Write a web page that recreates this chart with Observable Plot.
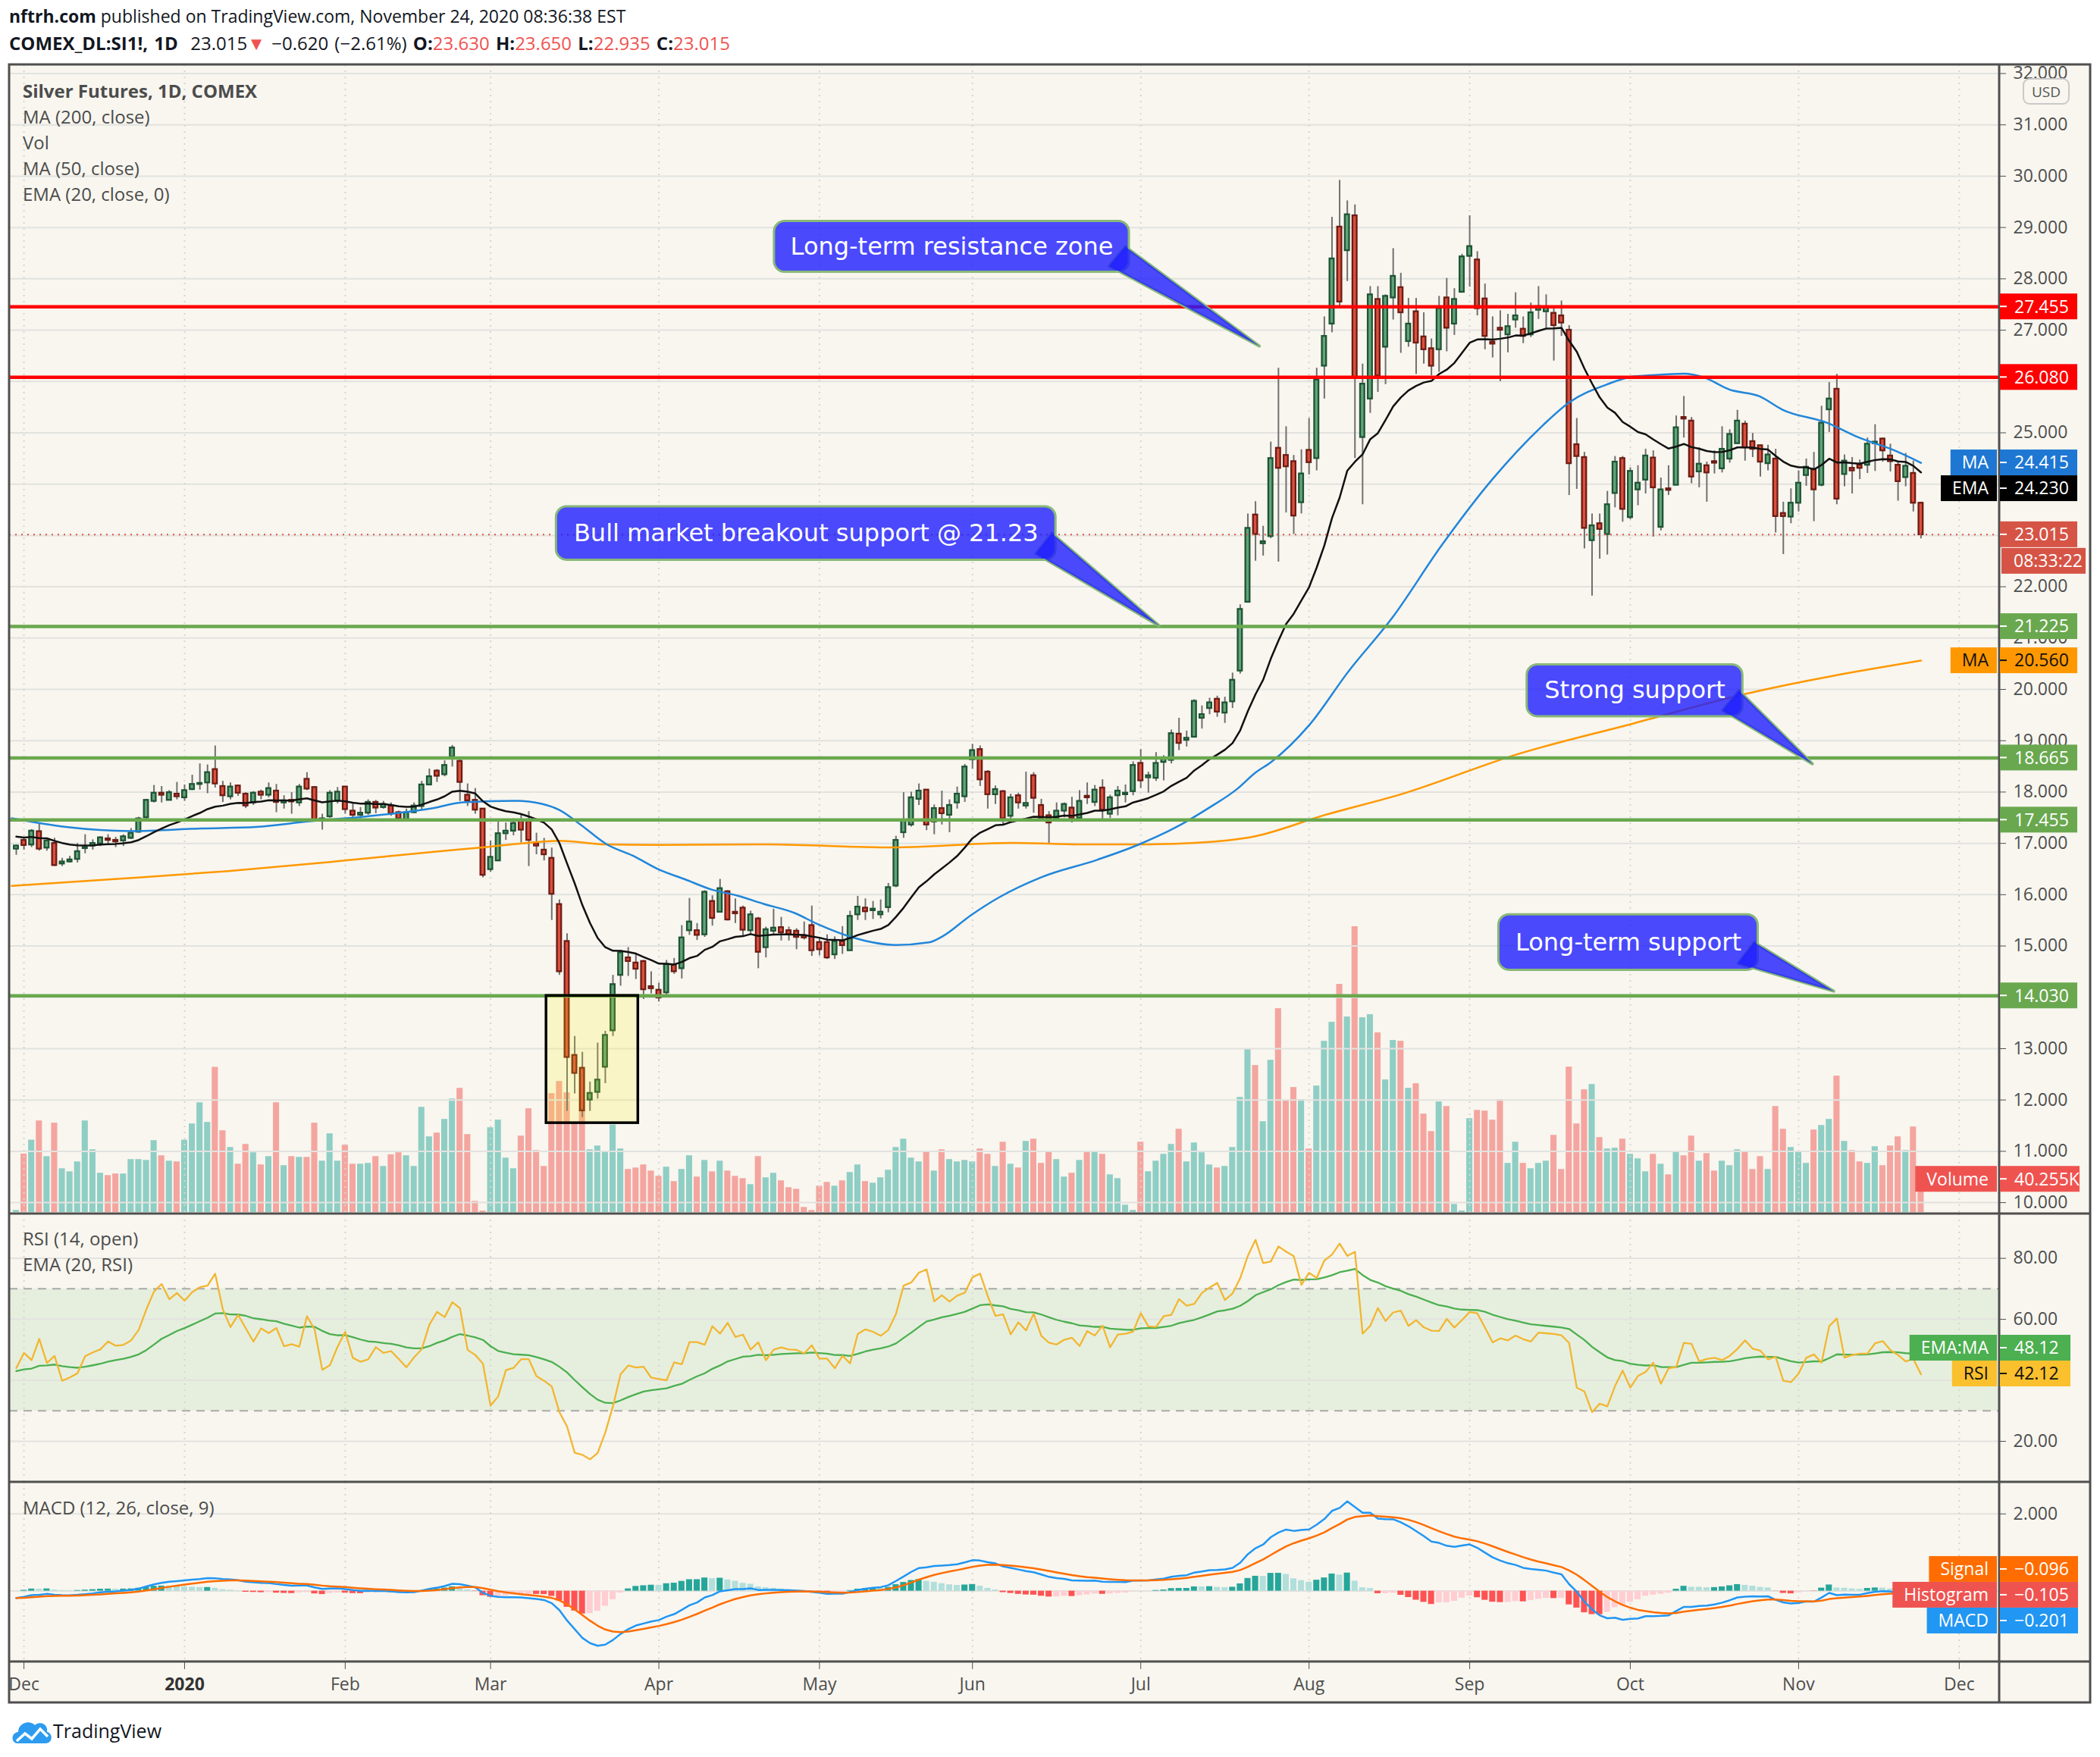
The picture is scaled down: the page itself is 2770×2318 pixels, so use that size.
<!DOCTYPE html>
<html>
<head>
<meta charset="utf-8">
<script src="https://cdn.jsdelivr.net/npm/d3@7"></script>
<script src="https://cdn.jsdelivr.net/npm/@observablehq/plot@0.6"></script>
<style>
  html, body { margin: 0; padding: 0; background: #ffffff; }
  #page { position: relative; width: 2770px; height: 2318px; background: #ffffff; overflow: hidden; font-family: "Open Sans", sans-serif; color: #131722; }
  .hdr { position: absolute; left: 12px; font-size: 23px; white-space: nowrap; line-height: 30px; }
  .leg { position: absolute; left: 30px; font-size: 24px; color: #4c4c4c; white-space: nowrap; line-height: 30px; }
  .red { color: #ef5350; }
</style>
</head>
<body>
<div id="page">
  <div style="position:absolute;left:12px;top:85px;width:2745px;height:2161px;background:#f8f6ef;"></div>
  <div class="hdr" style="top:6px"><b>nftrh.com</b> published on TradingView.com, November 24, 2020 08:36:38 EST</div>
  <div class="hdr" style="top:42px;font-size:24px;word-spacing:2px"><b>COMEX_DL:SI1!, 1D</b>&nbsp; 23.015<span class="red">▼</span> −0.620 (−2.61%) <b>O:</b><span class="red">23.630</span> <b>H:</b><span class="red">23.650</span> <b>L:</b><span class="red">22.935</span> <b>C:</b><span class="red">23.015</span></div>
</div>
<script>
// ---------------- DATA (bar index 0 = Nov 29 2019 ... 249 = Nov 24 2020) ----------------
const openP = [
16.89,17.06,16.97,17.23,16.91,17.00,16.60,16.64,16.69,16.90,
16.95,16.99,17.09,17.04,17.05,17.10,17.22,17.50,17.82,17.98,
17.84,17.96,17.89,18.05,18.15,18.18,18.44,18.11,17.91,18.12,
17.96,17.79,18.00,17.94,18.02,17.79,17.82,17.79,18.25,18.09,
17.45,17.52,17.82,18.10,17.63,17.55,17.59,17.80,17.70,17.73,
17.60,17.46,17.60,17.72,18.14,18.41,18.34,18.68,18.60,17.94,
17.84,17.67,16.49,16.66,17.19,17.24,17.43,17.43,17.00,16.87,
16.71,15.81,15.09,12.87,12.62,12.00,12.15,12.64,13.35,14.43,
14.77,14.67,14.70,14.21,14.14,14.09,14.63,14.56,15.30,15.30,
15.22,15.87,15.66,16.06,15.66,15.74,15.30,15.53,14.97,15.29,
15.36,15.30,15.29,15.20,15.40,15.07,15.07,14.83,15.09,14.91,
15.61,15.74,15.69,15.61,15.75,16.17,17.21,17.36,17.86,18.04,
17.42,17.68,17.55,17.79,17.91,18.63,18.83,18.39,17.95,18.01,
17.53,17.93,17.73,18.32,17.74,17.54,17.49,17.63,17.69,17.49,
17.90,17.80,18.08,17.57,17.93,17.95,18.01,18.56,18.28,18.27,
18.58,18.62,19.13,19.01,19.07,19.44,19.63,19.81,19.54,19.76,
20.36,21.70,23.40,22.84,22.98,24.70,24.56,24.44,23.64,24.66,
24.50,26.30,27.12,29.01,28.55,29.23,24.91,25.66,27.60,26.67,
27.63,27.83,26.78,27.36,26.87,26.64,26.62,27.63,27.12,27.74,
28.44,28.37,27.61,26.75,27.02,26.91,27.20,27.02,26.91,27.39,
27.36,27.33,27.28,27.00,24.77,24.52,22.90,23.23,23.02,23.82,
24.50,23.35,23.89,24.08,24.51,23.16,23.91,23.98,25.28,25.23,
24.24,24.36,24.42,24.30,24.49,24.79,25.17,24.83,24.75,24.40,
24.49,23.43,23.36,23.63,24.17,24.29,23.98,25.45,25.85,24.19,
24.31,24.37,24.37,24.79,24.88,24.55,24.37,24.13,24.21,23.63];
const highP = [
16.97,17.09,17.27,17.40,17.07,17.10,16.71,16.75,17.00,17.17,
17.07,17.13,17.17,17.12,17.17,17.29,17.51,17.86,18.13,18.11,
18.03,18.19,18.14,18.33,18.55,18.53,18.90,18.21,18.18,18.14,
17.99,18.01,18.04,18.18,18.15,17.93,17.99,18.15,18.38,18.11,
17.57,18.03,18.09,18.11,17.77,17.70,17.85,17.84,17.82,17.79,
17.63,17.67,17.79,18.21,18.45,18.44,18.61,18.91,18.63,18.16,
18.07,17.68,17.05,17.43,17.40,17.48,17.57,17.62,17.20,17.10,
16.91,15.90,15.24,13.24,12.93,12.35,13.11,13.34,14.43,14.92,
14.97,14.86,14.72,14.50,14.28,14.72,14.76,15.40,15.93,15.44,
16.08,15.98,16.30,16.08,15.92,15.78,15.68,15.56,15.37,15.72,
15.56,15.37,15.34,15.47,15.78,15.14,15.22,15.18,15.38,15.68,
15.97,15.92,15.87,15.90,16.22,17.14,17.99,18.00,18.16,18.05,
17.75,18.02,17.85,18.10,18.54,18.93,18.90,18.42,18.12,18.03,
17.96,17.98,18.39,18.38,17.86,17.62,17.79,17.79,17.90,18.03,
18.18,18.13,18.24,17.94,18.11,18.14,18.59,18.83,18.39,18.77,
18.71,19.21,19.44,19.19,19.80,19.68,19.83,19.87,19.85,20.32,
21.65,23.42,23.66,23.18,24.82,26.26,25.12,24.56,24.67,25.28,
26.26,27.26,29.20,29.92,29.52,29.44,26.34,27.85,27.85,27.69,
28.59,28.11,27.62,27.62,27.34,26.83,27.66,28.01,27.81,28.48,
29.23,28.53,27.90,27.26,27.38,27.31,27.73,27.26,27.53,27.85,
27.69,27.42,27.57,27.09,25.28,24.62,23.42,23.42,23.86,24.54,
24.54,24.32,24.36,24.68,24.65,24.12,24.36,25.33,25.71,25.30,
24.71,24.43,24.65,25.12,25.06,25.44,25.23,24.99,24.76,24.76,
24.68,23.65,23.91,24.26,24.49,24.62,25.52,25.98,26.14,24.57,
24.52,24.47,24.90,25.16,24.90,24.78,24.44,24.60,24.45,23.65];
const lowP = [
16.77,16.87,16.92,16.85,16.85,16.55,16.55,16.62,16.62,16.80,
16.87,16.94,16.96,16.92,16.94,17.08,17.20,17.42,17.79,17.79,
17.83,17.85,17.82,18.03,18.04,17.97,18.08,17.80,17.85,17.92,
17.68,17.74,17.85,17.89,17.60,17.67,17.57,17.72,18.03,17.42,
17.26,17.49,17.77,17.57,17.49,17.48,17.55,17.58,17.67,17.53,
17.42,17.45,17.58,17.64,18.13,18.19,18.30,18.49,17.82,17.72,
17.57,16.33,16.44,16.66,17.06,17.15,17.01,16.55,16.78,16.66,
15.50,14.43,11.78,12.12,11.66,11.78,12.02,12.32,13.24,14.22,
14.41,14.35,13.96,14.07,13.91,14.00,14.45,14.36,15.21,15.11,
15.17,15.39,15.66,15.49,15.44,15.19,15.21,14.56,14.77,15.21,
15.10,15.10,14.93,15.12,14.80,14.81,14.74,14.74,14.84,14.91,
15.50,15.50,15.52,15.53,15.65,16.14,17.10,17.32,17.74,17.25,
17.17,17.36,17.21,17.67,17.80,18.45,18.11,17.67,17.76,17.36,
17.47,17.67,17.67,17.59,17.48,16.98,17.47,17.50,17.40,17.49,
17.76,17.72,17.42,17.49,17.54,17.79,17.93,18.07,17.98,18.21,
18.22,18.55,18.81,18.88,19.06,19.23,19.51,19.46,19.34,19.63,
20.30,21.70,22.50,22.60,22.94,22.48,23.44,23.02,23.42,24.18,
24.26,25.66,26.95,27.43,27.95,24.50,23.60,25.38,25.79,25.94,
27.20,26.55,26.67,26.14,26.34,26.11,26.18,26.58,26.90,27.74,
27.84,27.28,26.62,26.46,26.00,26.56,27.04,26.74,26.86,27.21,
27.04,26.40,26.88,23.78,23.90,22.74,21.82,22.54,22.62,23.54,
23.26,23.31,23.58,23.81,22.97,23.09,23.78,23.98,24.90,24.01,
23.93,23.65,24.20,24.22,24.41,24.78,24.45,24.52,24.14,24.26,
23.05,22.63,23.23,23.46,23.96,23.27,23.95,25.01,23.60,23.95,
23.81,24.09,24.21,24.25,24.43,24.24,23.67,23.95,23.46,22.935];
const closeP = [
16.95,16.96,17.24,16.89,17.05,16.57,16.62,16.68,16.84,16.92,
17.00,17.11,17.06,17.03,17.13,17.20,17.48,17.84,17.98,17.94,
17.99,17.91,18.03,18.15,18.17,18.38,18.16,17.93,18.10,17.98,
17.73,17.98,17.94,18.07,17.80,17.83,17.81,18.10,18.06,17.44,
17.46,17.98,18.00,17.66,17.55,17.59,17.80,17.69,17.76,17.58,
17.48,17.60,17.73,18.14,18.30,18.31,18.52,18.86,18.19,17.83,
17.65,16.38,16.73,17.19,17.24,17.39,17.26,17.06,16.95,16.78,
16.01,14.50,12.83,12.52,11.79,12.13,12.39,13.26,14.25,14.87,
14.70,14.55,14.15,14.17,13.99,14.64,14.50,15.16,15.47,15.21,
16.05,15.54,16.12,15.51,15.63,15.31,15.61,14.88,15.32,15.35,
15.26,15.22,15.17,15.16,14.91,14.93,14.77,15.09,15.01,15.58,
15.76,15.67,15.70,15.66,16.14,17.06,17.44,17.89,18.02,17.36,
17.68,17.58,17.74,17.96,18.49,18.81,18.24,17.95,18.05,17.48,
17.89,17.79,17.78,17.88,17.49,17.40,17.63,17.76,17.49,17.82,
17.89,18.04,17.65,17.89,18.02,17.96,18.52,18.22,18.30,18.56,
18.65,19.14,18.95,19.03,19.77,19.51,19.74,19.56,19.74,20.18,
21.56,23.14,23.02,22.86,24.50,24.31,24.34,23.38,24.20,24.42,
26.03,26.88,28.39,27.55,29.25,26.08,25.95,27.69,26.11,27.66,
28.05,27.34,27.12,26.75,26.62,26.30,27.42,27.04,27.60,28.43,
28.63,27.42,26.88,26.73,27.00,27.07,27.28,26.88,27.34,27.46,
27.44,27.09,27.14,24.40,24.54,23.14,23.19,23.12,23.60,24.43,
23.51,24.25,24.02,24.55,23.93,23.89,23.88,25.10,25.27,24.14,
24.39,24.22,24.41,24.68,24.97,25.23,24.71,24.68,24.43,24.57,
23.37,23.37,23.63,24.02,24.33,23.89,25.19,25.66,23.71,24.45,
24.26,24.31,24.78,24.80,24.65,24.44,24.05,24.35,23.63,23.015];
const volumeK = [
2.5,70.9,87.8,111.1,67.8,108.4,53.1,49.4,61.4,111.1,
76.1,47.6,44.8,46.7,46.7,64.2,64.2,63.2,87.2,68.8,
62.3,61.4,87.8,107.5,133.2,109.3,176.2,99.2,78.9,58.6,
82.6,72.5,57.7,67.8,133.2,56.8,67.8,66.9,66.9,108.4,
62.3,95.5,62.3,81.7,58.6,58.6,59.6,67.8,55.9,70.0,
72.5,68.8,55.9,127.7,91.8,96.4,113.0,137.8,150.7,94.6,
13.5,1.8,102.8,112.1,66.0,53.1,92.7,125.9,75.2,55.9,
144.3,159.0,145.2,109.3,124.9,76.1,80.7,73.4,106.2,77.1,
52.2,54.0,57.7,50.3,43.9,55.0,37.5,52.2,68.8,43.0,
63.2,49.4,62.3,50.3,43.9,41.1,33.8,67.8,42.1,47.6,
38.4,30.1,28.2,6.1,2.5,31.9,36.5,31.9,38.4,48.5,
57.7,37.5,35.6,42.1,51.3,78.9,89.0,66.0,61.4,73.4,
50.3,76.1,64.2,61.4,63.2,61.4,77.1,70.6,55.9,85.3,
58.6,54.0,86.3,89.0,59.6,74.3,64.2,43.0,47.6,63.2,
74.3,74.3,70.6,45.7,41.1,8.9,2.5,85.3,49.4,62.3,
70.6,82.6,101.0,61.4,84.4,72.5,57.7,54.0,55.9,78.9,
139.7,197.7,178.4,110.2,184.8,247.4,136.0,151.7,136.9,77.1,
153.5,207.8,230.9,276.9,237.3,346.9,236.4,240.1,218.0,160.9,
208.8,207.8,150.7,156.3,119.4,98.2,134.2,128.6,9.8,1.8,
113.9,124.0,123.1,112.1,136.9,59.6,85.3,59.6,53.1,59.6,
62.3,93.6,52.2,176.5,107.5,148.9,155.3,90.9,77.1,78.0,
89.0,70.6,65.1,49.4,70.6,58.6,45.7,73.4,68.8,92.7,
62.3,71.5,50.3,62.3,56.8,76.1,73.4,52.2,67.8,52.2,
128.6,101.0,78.9,73.4,59.6,100.1,105.6,113.0,165.5,86.3,
75.2,61.4,59.6,79.8,56.8,80.7,91.8,75.2,103.8,40.255];

// moving averages (bar index, value)
const ma50Idx = [-0.6,6.5,15,24.2,31.3,38.3,45.4,54.6,58.4,65.3,68.7,71,73.8,77.2,80.6,84,87.4,90.9,94.3,97.7,101.8,104.7,109.5,115,119.3,121,124.8,128.5,134,141.3,146.8,152.3,155.9,159.6,162,164,169,174.2,179.8,186.4,193,199.6,202.9,207.9,211.5,212.7,218,220.6,224,227.9,230.9,236.8,240.5,245.8,249];
const ma50Val = [17.49,17.32,17.24,17.29,17.32,17.43,17.52,17.69,17.80,17.83,17.77,17.65,17.36,16.98,16.76,16.49,16.30,16.10,15.98,15.82,15.64,15.43,15.16,15.02,15.07,15.18,15.60,15.95,16.34,16.68,16.98,17.37,17.69,18.06,18.38,18.58,19.30,20.36,21.38,22.82,24.10,25.15,25.58,25.94,26.10,26.11,26.15,26.08,25.84,25.71,25.45,25.19,24.93,24.64,24.415];
const ma200Idx = [-0.6,13.6,27.7,41.9,54.9,60.1,66.9,71,77.2,84,97.7,114.6,130.3,139.4,146.8,154,162,171,181.1,196.3,211.5,225.7,249];
const ma200Val = [16.17,16.31,16.46,16.65,16.84,16.91,17.01,17.05,16.98,16.97,16.98,16.92,17.01,16.98,16.98,17.01,17.14,17.55,17.96,18.74,19.34,19.90,20.56];

// indicator starting states
const emaStart = 17.13, rsiStart = 44, rsiEmaStart = 43, macdStart = -0.18, signalStart = -0.18;

// horizontal levels
const resistanceLevels = [27.455, 26.08];
const supportLevels = [21.225, 18.665, 17.455, 14.03];
const lastPrice = 23.015;
const countdownText = "08:33:22";

// axis ticks / labels
const priceTicks = [10,11,12,13,14,15,16,17,18,19,20,21,22,23,24,25,26,27,28,29,30,31,32];
const rsiTicks = [20,40,60,80];
const rsiBands = [30,70];
const macdTicks = [0,2];
const monthTickIdx = [1,22,43,62,84,105,125,147,169,190,211,233,254];
const monthLabels = ["Dec","2020","Feb","Mar","Apr","May","Jun","Jul","Aug","Sep","Oct","Nov","Dec"];

// last-value labels shown on the scales
const lastMa50 = 24.415, lastEma = 24.230, lastMa200 = 20.560, lastVolume = 40.255;
const lastRsi = 42.12, lastRsiEma = 48.12;
const lastMacd = -0.201, lastSignal = -0.096, lastHist = -0.105;

// highlighted crash box (bar index / price)
const highlightIdx = [69.3, 81.3];
const highlightPrice = [11.55, 14.03];

// callouts (text, box in bar index / price, tip in bar index / price)
const calloutText = ["Long-term resistance zone","Bull market breakout support @ 21.23","Strong support","Long-term support"];
const calloutStartIdx = [99.1, 70.6, 197.5, 193.8];
const calloutEndIdx = [145.5, 135.9, 225.7, 227.7];
const calloutTopPrice = [29.12, 23.56, 20.48, 15.61];
const calloutBottomPrice = [28.13, 22.52, 19.47, 14.53];
const calloutTipIdx = [162.5, 149.4, 234.8, 237.6];
const calloutTipPrice = [26.69, 21.24, 18.55, 14.12];

// ---------------- DERIVED SERIES ----------------
const bars = closeP.map((c, k) => ({k, o: openP[k], h: highP[k], l: lowP[k], c, v: volumeK[k], up: c >= openP[k]}));
const a20 = 2 / 21;
bars.forEach((b, k) => { b.ema = k === 0 ? emaStart : a20 * b.c + (1 - a20) * bars[k - 1].ema; });
bars.forEach((b, k) => {
  if (k === 0) { b.e26 = b.c; b.e12 = b.c + macdStart; b.macd = macdStart; b.sig = signalStart; }
  else { const p = bars[k - 1]; b.e12 = b.c * 2 / 13 + p.e12 * 11 / 13; b.e26 = b.c * 2 / 27 + p.e26 * 25 / 27; b.macd = b.e12 - b.e26; b.sig = b.macd * 0.2 + p.sig * 0.8; }
  b.hist = b.macd - b.sig;
});
bars.forEach((b, k) => {
  const prev = k > 0 ? bars[k - 1].hist : b.hist;
  b.hc = b.hist >= 0 ? (prev < b.hist ? "#26a69a" : "#b2dfdb") : (prev < b.hist ? "#ffcdd2" : "#ff5252");
});
const m0 = d3.mean(d3.range(1, 15), k => Math.abs(openP[k] - openP[k - 1]));
let ag = m0 * rsiStart / 100, al = m0 * (1 - rsiStart / 100);
bars.forEach((b, k) => {
  if (k === 0) { b.rsi = rsiStart; b.rsiE = rsiEmaStart; return; }
  const d = openP[k] - openP[k - 1];
  ag = (ag * 13 + Math.max(d, 0)) / 14; al = (al * 13 + Math.max(-d, 0)) / 14;
  b.rsi = 100 - 100 / (1 + ag / al);
  b.rsiE = b.rsi * 2 / 21 + bars[k - 1].rsiE * 19 / 21;
});
const ma50pts = ma50Idx.map((k, i) => ({k, v: ma50Val[i]}));
const ma200pts = ma200Idx.map((k, i) => ({k, v: ma200Val[i]}));
const callouts = calloutText.map((text, i) => ({i, text, x1: calloutStartIdx[i], x2: calloutEndIdx[i], top: calloutTopPrice[i], bottom: calloutBottomPrice[i], tk: calloutTipIdx[i], tp: calloutTipPrice[i]}));
const tails = callouts.flatMap(c => {
  const hh = c.top - c.bottom;
  return [
    {i: c.i, k: c.x2 - 2.6, p: c.bottom + 0.12 * hh},
    {i: c.i, k: c.tk, p: c.tp},
    {i: c.i, k: c.x2 - 0.5, p: c.bottom + 0.5 * hh}
  ];
});

// ---------------- LAYOUT ----------------
const page = document.getElementById("page");
const FRAME_L = 12, AXIS_X = 2637, FRAME_R = 2757;
const PANES = {price: [85, 1516], rsi: [1601, 354], macd: [1955, 237], time: [2192, 54]};
const xDomain = [-0.892, 259.17];
const FONT = "'Open Sans', sans-serif";
function common(h) {
  return {width: 2745, height: h, marginLeft: 0, marginRight: 121, marginTop: 0, marginBottom: 0,
    x: {domain: xDomain, axis: null}, color: {type: "identity"},
    style: {background: "transparent", fontFamily: FONT, fontSize: "23px", color: "#4e4e4e"}};
}
function place(el, top) { el.style.position = "absolute"; el.style.left = FRAME_L + "px"; el.style.top = top + "px"; page.appendChild(el); return el; }

const CALLOUT_FILL = "#1e1eff", CALLOUT_STROKE = "#88b877";

// volume layer (under price)
const volPlot = Plot.plot({...common(PANES.price[1]), y: {domain: [-1.84, 1393.1], axis: null, label: null},
  marks: [
    Plot.rect(bars, {x1: d => d.k - 0.4, x2: d => d.k + 0.4, y1: 0, y2: "v", fill: d => d.up ? "rgba(38,166,154,0.5)" : "rgba(239,83,80,0.5)"})
  ]});
place(volPlot, PANES.price[0]);

const pricePlot = Plot.plot({...common(PANES.price[1]), y: {domain: [9.78, 32.17], label: null},
  marks: [
    Plot.ruleY(priceTicks, {stroke: "#e2e2df", strokeWidth: 2}),
    Plot.ruleX(monthTickIdx, {stroke: "#d6d6d2", strokeWidth: 2, strokeDasharray: "2,6"}),
    Plot.ruleX(bars, {x: "k", y1: "l", y2: "h", stroke: "#707070", strokeWidth: 2}),
    Plot.rect(bars, {x1: d => d.k - 0.28, x2: d => d.k + 0.28,
      y1: d => Math.min(d.o, d.c), y2: d => Math.max(d.o, d.c) + (Math.abs(d.o - d.c) < 0.02 ? 0.02 : 0),
      fill: d => d.up ? "#63a379" : "#da503e", stroke: d => d.up ? "#1e5434" : "#6e1c14", strokeWidth: 2.3}),
    Plot.line(ma200pts, {x: "k", y: "v", stroke: "#ff9800", strokeWidth: 2.5, curve: "monotone-x"}),
    Plot.line(ma50pts, {x: "k", y: "v", stroke: "#2186da", strokeWidth: 2.5, curve: "monotone-x"}),
    Plot.line(bars, {x: "k", y: "ema", stroke: "#111111", strokeWidth: 2.5}),
    Plot.ruleY(resistanceLevels, {stroke: "#ff0000", strokeWidth: 4.5}),
    Plot.ruleY(supportLevels, {stroke: "#6aa84f", strokeWidth: 4.5}),
    Plot.ruleY([lastPrice], {stroke: "#e0533f", strokeWidth: 2, strokeDasharray: "2,6"}),
    Plot.rect([0], {x1: () => highlightIdx[0], x2: () => highlightIdx[1], y1: () => highlightPrice[0], y2: () => highlightPrice[1], fill: "#fff200", fillOpacity: 0.17, stroke: "#000000", strokeWidth: 3.5}),
    Plot.line(tails, {x: "k", y: "p", z: "i", curve: "linear-closed", fill: "none", stroke: CALLOUT_STROKE, strokeWidth: 4}),
    Plot.rect(callouts, {x1: "x1", x2: "x2", y1: "bottom", y2: "top", rx: 14, fill: CALLOUT_FILL, fillOpacity: 0.8, stroke: CALLOUT_STROKE, strokeWidth: 3}),
    Plot.line(tails, {x: "k", y: "p", z: "i", curve: "linear-closed", fill: CALLOUT_FILL, fillOpacity: 0.8, stroke: "none"}),
    Plot.text(callouts, {x: d => (d.x1 + d.x2) / 2, y: d => (d.top + d.bottom) / 2, text: "text", fill: "white", fontSize: 32, fontFamily: "DejaVu Sans", textAnchor: "middle"}),
    Plot.axisY({anchor: "right", ticks: priceTicks, tickFormat: d3.format(".3f"), tickSize: 9, tickPadding: 10, color: "#4e4e4e"})
  ]});
place(pricePlot, PANES.price[0]);

const rsiPlot = Plot.plot({...common(PANES.rsi[1]), y: {domain: [6.58, 94.57], label: null},
  marks: [
    Plot.rect([0], {y1: () => rsiBands[0], y2: () => rsiBands[1], fill: "rgba(76,175,80,0.1)"}),
    Plot.ruleY(rsiTicks, {stroke: "#e2e2df", strokeWidth: 2}),
    Plot.ruleX(monthTickIdx, {stroke: "#d6d6d2", strokeWidth: 2, strokeDasharray: "2,6"}),
    Plot.ruleY(rsiBands, {stroke: "#a9a9a9", strokeWidth: 2, strokeDasharray: "11,8"}),
    Plot.line(bars, {x: "k", y: "rsiE", stroke: "#4caf50", strokeWidth: 2.3}),
    Plot.line(bars, {x: "k", y: "rsi", stroke: "#f2b632", strokeWidth: 2.3}),
    Plot.axisY({anchor: "right", ticks: rsiTicks, tickFormat: d3.format(".2f"), tickSize: 9, tickPadding: 10, color: "#4e4e4e"})
  ]});
place(rsiPlot, PANES.rsi[0]);

const macdPlot = Plot.plot({...common(PANES.macd[1]), y: {domain: [-1.835, 2.821], label: null},
  marks: [
    Plot.ruleY(macdTicks, {stroke: "#e2e2df", strokeWidth: 2}),
    Plot.ruleX(monthTickIdx, {stroke: "#d6d6d2", strokeWidth: 2, strokeDasharray: "2,6"}),
    Plot.rect(bars, {x1: d => d.k - 0.4, x2: d => d.k + 0.4, y1: 0, y2: "hist", fill: "hc"}),
    Plot.line(bars, {x: "k", y: "macd", stroke: "#2196f3", strokeWidth: 2.5}),
    Plot.line(bars, {x: "k", y: "sig", stroke: "#ff6d00", strokeWidth: 2.5}),
    Plot.axisY({anchor: "right", ticks: macdTicks, tickFormat: d3.format(".3f"), tickSize: 9, tickPadding: 10, color: "#4e4e4e"})
  ]});
place(macdPlot, PANES.macd[0]);

const timePlot = Plot.plot({width: 2745, height: 54, marginLeft: 0, marginRight: 121, marginTop: 0, marginBottom: 53,
  x: {domain: xDomain, label: null},
  style: {background: "transparent", fontFamily: FONT, fontSize: "23px", color: "#4e4e4e"},
  marks: [Plot.axisX(monthTickIdx, {anchor: "bottom", tickSize: 9, tickPadding: 11, tickFormat: d => monthLabels[monthTickIdx.indexOf(d)], color: "#4e4e4e"})]});
place(timePlot, PANES.time[0]);
d3.select(timePlot).selectAll("text").filter(function () { return this.textContent === "2020"; }).attr("font-weight", "bold").attr("fill", "#333");

// legends
function leg(html, top, bold) { const d = document.createElement("div"); d.className = "leg"; d.style.top = top + "px"; if (bold) d.style.fontWeight = "bold"; d.innerHTML = html; page.appendChild(d); }
leg("Silver Futures, 1D, COMEX", 105, true);
leg("MA (200, close)", 139);
leg("Vol", 173);
leg("MA (50, close)", 207);
leg("EMA (20, close, 0)", 241);
leg("RSI (14, open)", 1619);
leg("EMA (20, RSI)", 1653);
leg("MACD (12, 26, close, 9)", 1974);

// ---------------- OVERLAY: frame, scale labels ----------------
const svg = d3.select(page).append("svg").attr("width", 2770).attr("height", 2318)
  .style("position", "absolute").style("left", "0px").style("top", "0px").style("pointer-events", "none");
const fr = svg.append("g").attr("stroke", "#4f4f4f").attr("stroke-width", 3).attr("fill", "none");
fr.append("rect").attr("x", FRAME_L).attr("y", 85).attr("width", FRAME_R - FRAME_L).attr("height", 2161);
[PANES.rsi[0], PANES.macd[0], PANES.time[0]].forEach(y => fr.append("line").attr("x1", FRAME_L).attr("x2", FRAME_R).attr("y1", y).attr("y2", y));
fr.append("line").attr("x1", AXIS_X).attr("x2", AXIS_X).attr("y1", 85).attr("y2", 2246);

// USD badge
svg.append("rect").attr("x", 2669).attr("y", 104).attr("width", 60).attr("height", 33).attr("rx", 8).attr("fill", "#f8f6ef").attr("stroke", "#c9c9c9").attr("stroke-width", 2);
svg.append("text").attr("x", 2699).attr("y", 121).attr("dy", "0.36em").attr("text-anchor", "middle").attr("font-family", FONT).attr("font-size", 19).attr("fill", "#555").text("USD");

const LG = svg.append("g").attr("font-family", FONT).attr("font-size", 23);
const H = 34;
function drawLabel(item) {
  const y = item.y, tc = item.textColor || "#ffffff", right = item.right || 2740, left = item.left || (AXIS_X + 1);
  LG.append("rect").attr("x", left).attr("y", y - H / 2).attr("width", right - left).attr("height", H).attr("fill", item.color);
  if (!item.noTick) LG.append("line").attr("x1", AXIS_X + 1).attr("x2", AXIS_X + 10).attr("y1", y).attr("y2", y).attr("stroke", tc).attr("stroke-width", 2);
  LG.append("text").attr("x", left + (item.noTick ? 16 : 19)).attr("y", y).attr("dy", "0.36em").attr("fill", tc).text(item.text);
  if (item.name) {
    const t = LG.append("text").attr("x", AXIS_X - 14).attr("y", y).attr("dy", "0.36em").attr("text-anchor", "end").attr("fill", tc).text(item.name);
    const w = t.node().getComputedTextLength();
    LG.insert("rect", () => t.node()).attr("x", AXIS_X - 3 - w - 26).attr("y", y - H / 2).attr("width", w + 26).attr("height", H).attr("fill", item.color);
  }
}
// hide scale tick labels that sit fully under a value label (as in the reference)
function hideCovered(plotEl, scale, top, ticks, fmt, centers) {
  const hidden = new Set(ticks.filter(v => centers.some(c => Math.abs(top + scale.apply(v) - c) < H / 2 - 5)).map(fmt));
  d3.select(plotEl).selectAll("text").filter(function () { return hidden.has(this.textContent); }).remove();
}
const yP = pricePlot.scale("y"), yV = volPlot.scale("y"), yR = rsiPlot.scale("y"), yM = macdPlot.scale("y");
const P0 = PANES.price[0];
const priceItems = [
  {v: resistanceLevels[0], text: "27.455", color: "#ff0000"},
  {v: resistanceLevels[1], text: "26.080", color: "#ff0000"},
  {v: lastMa50, text: lastMa50.toFixed(3), color: "#1e77d3", name: "MA"},
  {v: lastEma, text: lastEma.toFixed(3), color: "#000000", name: "EMA"},
  {v: lastPrice, text: lastPrice.toFixed(3), color: "#d65446", last: true},
  {v: supportLevels[0], text: "21.225", color: "#6aa84f"},
  {v: lastMa200, text: lastMa200.toFixed(3), color: "#ff9800", name: "MA", textColor: "#111111"},
  {v: supportLevels[1], text: "18.665", color: "#6aa84f"},
  {v: supportLevels[2], text: "17.455", color: "#6aa84f"},
  {v: supportLevels[3], text: "14.030", color: "#6aa84f"}
];
priceItems.forEach(d => d.y = P0 + yP.apply(d.v));
priceItems.sort((a, b) => a.y - b.y);
for (let i = 1; i < priceItems.length; i++) if (priceItems[i].y < priceItems[i - 1].y + H) priceItems[i].y = priceItems[i - 1].y + H;
const volY = P0 + yV.apply(lastVolume);
const priceCenters = priceItems.map(d => d.y).concat(priceItems.filter(d => d.last).map(d => d.y + H + 1), [volY]);
hideCovered(pricePlot, yP, P0, priceTicks, d3.format(".3f"), priceCenters);
priceItems.forEach(d => {
  drawLabel(d);
  if (d.last) drawLabel({y: d.y + H + 1, text: countdownText, color: "#d65446", left: AXIS_X + 3, right: 2751, noTick: true});
});
drawLabel({y: volY, text: lastVolume.toFixed(3) + "K", color: "#ef5350", name: "Volume", right: 2743});

// RSI labels (upper one pushed upward)
const R0 = PANES.rsi[0];
const rsiItems = [
  {v: lastRsi, text: lastRsi.toFixed(2), color: "#fbc02d", name: "RSI", textColor: "#111111", right: 2731},
  {v: lastRsiEma, text: lastRsiEma.toFixed(2), color: "#4caf50", name: "EMA:MA", right: 2731}
];
rsiItems.forEach(d => d.y = R0 + yR.apply(d.v));
rsiItems.sort((a, b) => b.y - a.y);
for (let i = 1; i < rsiItems.length; i++) if (rsiItems[i].y > rsiItems[i - 1].y - H) rsiItems[i].y = rsiItems[i - 1].y - H;
hideCovered(rsiPlot, yR, R0, rsiTicks, d3.format(".2f"), rsiItems.map(d => d.y));
rsiItems.forEach(drawLabel);

// MACD labels (middle one anchored)
const M0 = PANES.macd[0];
const hy = M0 + yM.apply(lastHist);
hideCovered(macdPlot, yM, M0, macdTicks, d3.format(".3f"), [hy - H, hy, hy + H]);
drawLabel({y: hy - H, text: lastSignal.toFixed(3).replace("-", "−"), color: "#ff6d00", name: "Signal", right: 2741});
drawLabel({y: hy, text: lastHist.toFixed(3).replace("-", "−"), color: "#ef5350", name: "Histogram", right: 2741});
drawLabel({y: hy + H, text: lastMacd.toFixed(3).replace("-", "−"), color: "#2196f3", name: "MACD", right: 2741});

// TradingView logo
const logo = svg.append("g").attr("transform", "translate(16,2266)");
logo.append("path").attr("d", "M8 34 C-2 34 -2 20 8 19 C8 8 22 2 30 10 C36 4 48 8 46 19 C54 20 54 34 44 34 Z").attr("fill", "#2d9cf0");
logo.append("polyline").attr("points", "6,31 17,21 26,28 37,15 47,25").attr("fill", "none").attr("stroke", "#ffffff").attr("stroke-width", 3.5);
svg.append("text").attr("x", 70).attr("y", 2284).attr("dy", "0.36em").attr("font-family", FONT).attr("font-size", 25).attr("font-weight", 500).attr("fill", "#131722").text("TradingView");
</script>
</body>
</html>
